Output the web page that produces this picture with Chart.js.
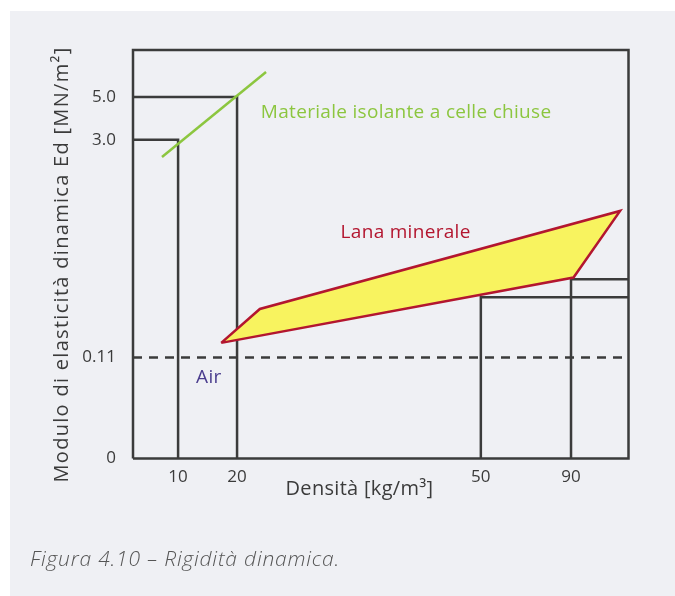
<!DOCTYPE html>
<html lang="it">
<head>
<meta charset="UTF-8">
<title>Figura 4.10 - Rigidità dinamica</title>
<style>
    body { margin: 0; background: #fff; font-family: 'Open Sans', sans-serif; }
    .panel { position: absolute; left: 10px; top: 11px; right: 0; bottom: 0; background: #eff0f4; }
    #chart { position: absolute; left: 0; top: 0; }
    .caption {
        position: absolute; left: 30px; top: 544px;
        font-size: 21px; font-style: italic; font-weight: 300; letter-spacing: 0.8px;
        color: #555; white-space: nowrap;
    }
</style>
</head>
<body>
<div class="panel"></div>
<canvas id="chart" width="675" height="596"></canvas>
<div class="caption">Figura 4.10 – Rigidità dinamica.</div>

<script src="https://cdn.jsdelivr.net/npm/chart.js"></script>
<script>
// the figure is schematic: both axes run 0..100 across the frame and the
// ticks sit where the drawing puts them, not on a true scale
const xTickPos = [9.1, 21.0, 70.2, 88.4];
const xTickLabels = ['10', '20', '50', '90'];
const yTickPos = [0, 24.7, 78.0, 88.5];
const yTickLabels = ['0', '0.11', '3.0', '5.0'];

const frameX = [0, 100, 100, 0, 0];
const frameY = [0, 0, 100, 100, 0];

// reference lines from the ticks
const guide3X = [0, 9.1, 9.1];
const guide3Y = [78.0, 78.0, 0];
const guide5X = [0, 21.0, 21.0];
const guide5Y = [88.5, 88.5, 0];
const guide50X = [70.2, 70.2, 100];
const guide50Y = [0, 39.5, 39.5];
const guide90X = [88.4, 88.4, 100];
const guide90Y = [0, 43.9, 43.9];
const airX = [0, 100];
const airY = [24.7, 24.7];

// closed-cell insulation line
const closedCellX = [5.85, 26.85];
const closedCellY = [73.8, 94.6];

// mineral wool band (closed polygon)
const woolX = [17.8, 25.6, 98.3, 88.9, 17.8];
const woolY = [28.3, 36.6, 60.6, 44.3, 28.3];

const notes = [
    { text: 'Materiale isolante a celle chiuse', x: 25.8, y: 84.6, color: '#8cc63f', align: 'left' },
    { text: 'Lana minerale', x: 41.9, y: 55.2, color: '#b3162f', align: 'left' },
    { text: 'Air', x: 15.3, y: 19.7, color: '#4b3d8e', align: 'center' }
];

function pts(xs, ys) {
    return xs.map((x, i) => ({ x: x, y: ys[i] }));
}

function lineSet(xs, ys, extra) {
    return Object.assign({
        data: pts(xs, ys),
        showLine: true,
        borderColor: '#3b3b3b',
        borderWidth: 2.5,
        pointRadius: 0,
        tension: 0,
        clip: false,
        order: 3
    }, extra || {});
}

const notesPlugin = {
    id: 'notes',
    afterDatasetsDraw(chart) {
        const ctx = chart.ctx;
        const xs = chart.scales.x, ys = chart.scales.y;
        ctx.save();
        ctx.font = '19px "Open Sans"';
        ctx.letterSpacing = '0.3px';
        ctx.textBaseline = 'middle';
        notes.forEach(n => {
            ctx.fillStyle = n.color;
            ctx.textAlign = n.align;
            ctx.fillText(n.text, xs.getPixelForValue(n.x), ys.getPixelForValue(n.y));
        });

        // axis titles
        ctx.fillStyle = '#3b3b3b';
        ctx.font = '20px "Open Sans"';
        ctx.textAlign = 'center';
        ctx.fillText('Densità [kg/m³]', xs.getPixelForValue(45.7), ys.bottom + 31);
        ctx.letterSpacing = '1.3px';
        ctx.translate(xs.left - 71, ys.getPixelForValue(47.5));
        ctx.rotate(-Math.PI / 2);
        ctx.fillText('Modulo di elasticità dinamica Ed [MN/m²]', 0, 0);
        ctx.restore();
    }
};

new Chart(document.getElementById('chart'), {
    type: 'scatter',
    data: {
        datasets: [
            lineSet(frameX, frameY),
            lineSet(guide3X, guide3Y),
            lineSet(guide5X, guide5Y),
            lineSet(guide50X, guide50Y),
            lineSet(guide90X, guide90Y),
            lineSet(airX, airY, { borderDash: [9, 7] }),
            lineSet(woolX, woolY, {
                borderColor: '#b3162f',
                backgroundColor: '#f8f35f',
                fill: 'shape',
                borderJoinStyle: 'miter',
                order: 1
            }),
            lineSet(closedCellX, closedCellY, { borderColor: '#8cc63f', order: 0 })
        ]
    },
    options: {
        responsive: false,
        animation: false,
        layout: { padding: { left: 0, top: 50, right: 46.5, bottom: 0 } },
        plugins: { legend: { display: false }, tooltip: { enabled: false } },
        scales: {
            x: {
                type: 'linear', min: 0, max: 100,
                grid: { display: false, drawTicks: false }, border: { display: false },
                afterFit: s => { s.height = 137.5; },
                afterBuildTicks: s => { s.ticks = xTickPos.map(v => ({ value: v })); },
                ticks: {
                    padding: 8,
                    color: '#3b3b3b',
                    font: { family: 'Open Sans', size: 17 },
                    callback: (v) => xTickLabels[xTickPos.indexOf(v)]
                }
            },
            y: {
                type: 'linear', min: 0, max: 100,
                grid: { display: false, drawTicks: false }, border: { display: false },
                afterFit: s => { s.width = 133; },
                afterBuildTicks: s => { s.ticks = yTickPos.map(v => ({ value: v })); },
                ticks: {
                    padding: 17,
                    color: '#3b3b3b',
                    font: { family: 'Open Sans', size: 17 },
                    callback: (v) => yTickLabels[yTickPos.indexOf(v)]
                }
            }
        }
    },
    plugins: [notesPlugin]
});
</script>
</body>
</html>
